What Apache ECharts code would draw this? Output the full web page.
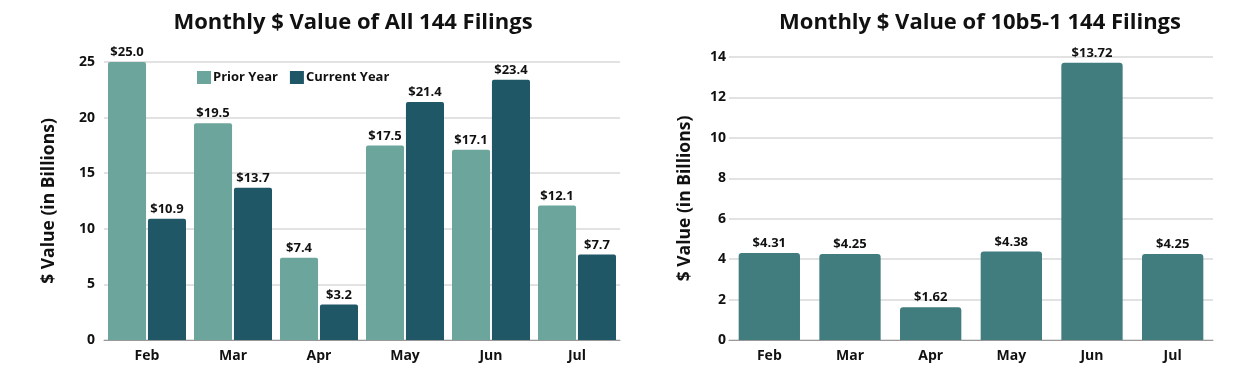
<!DOCTYPE html>
<html><head><meta charset="utf-8">
<script src="https://cdn.jsdelivr.net/npm/echarts@6/dist/echarts.min.js"></script>
<style>html,body{margin:0;padding:0;background:#fff}#c{width:1247px;height:384px}</style>
</head><body><div id="c"></div>
<script>
const months = ['Feb','Mar','Apr','May','Jun','Jul'];
const priorYear = [25.0, 19.5, 7.4, 17.5, 17.1, 12.1];
const currentYear = [10.9, 13.7, 3.2, 21.4, 23.4, 7.7];
const plan10b51 = [4.31, 4.25, 1.62, 4.38, 13.72, 4.25];
const leftTitle = 'Monthly $ Value of All 144 Filings';
const rightTitle = 'Monthly $ Value of 10b5-1 144 Filings';
const yName = '$ Value (in Billions)';

const F = '"Open Sans", sans-serif';
const chart = echarts.init(document.getElementById('c'));
const axisLabel = {fontFamily: F, fontWeight: 'bold', fontSize: 14, color: '#111'};
const lbl = d => ({show: true, position: 'top', distance: 3, fontFamily: F, fontWeight: 'bold', fontSize: 13, color: '#111',
  formatter: p => '$' + p.value.toFixed(d)});
const nameStyle = {fontFamily: F, fontWeight: 'bold', fontSize: 17.5, color: '#111'};
chart.setOption({
  animation: false,
  title: [
    {text: leftTitle, left: 348, top: 7, textAlign: 'center', textStyle: {fontFamily: F, fontWeight: 'bold', fontSize: 22, color: '#111'}},
    {text: rightTitle, left: 975, top: 7, textAlign: 'center', textStyle: {fontFamily: F, fontWeight: 'bold', fontSize: 22, color: '#111'}}
  ],
  legend: {left: 192, top: 66, itemWidth: 14, itemHeight: 13, itemGap: 12, icon: 'rect',
    textStyle: {fontFamily: F, fontWeight: 'bold', fontSize: 13, color: '#111', padding: [0, 0, 0, -3]},
    data: ['Prior Year', 'Current Year']},
  grid: [
    {left: 104, right: 627, top: 62, bottom: 44},
    {left: 729, right: 34, top: 57, bottom: 44}
  ],
  xAxis: [
    {type: 'category', gridIndex: 0, data: months, axisTick: {show: false}, axisLine: {lineStyle: {color: '#999'}}, axisLabel: Object.assign({margin: 9}, axisLabel)},
    {type: 'category', gridIndex: 1, data: months, axisTick: {show: false}, axisLine: {lineStyle: {color: '#999'}}, axisLabel: Object.assign({margin: 9}, axisLabel)}
  ],
  yAxis: [
    {type: 'value', gridIndex: 0, min: 0, max: 25, interval: 5, axisLabel: Object.assign({margin: 9}, axisLabel),
      splitLine: {lineStyle: {color: '#d9d9d9', width: 1.5}},
      name: yName, nameLocation: 'middle', nameGap: 46, nameTextStyle: nameStyle},
    {type: 'value', gridIndex: 1, min: 0, max: 14, interval: 2, axisLabel: Object.assign({margin: 3}, axisLabel),
      splitLine: {lineStyle: {color: '#d9d9d9', width: 1.5}},
      name: yName, nameLocation: 'middle', nameGap: 35, nameTextStyle: nameStyle}
  ],
  series: [
    {name: 'Prior Year', type: 'bar', xAxisIndex: 0, yAxisIndex: 0, data: priorYear, barGap: '5%', barCategoryGap: '9.3%',
      itemStyle: {color: '#6ba59b', borderRadius: [2,2,0,0]}, label: lbl(1)},
    {name: 'Current Year', type: 'bar', xAxisIndex: 0, yAxisIndex: 0, data: currentYear, barGap: '5%', barCategoryGap: '9.3%',
      itemStyle: {color: '#1f5766', borderRadius: [2,2,0,0]}, label: lbl(1)},
    {name: '10b5-1', type: 'bar', xAxisIndex: 1, yAxisIndex: 1, data: plan10b51, barCategoryGap: '24%',
      itemStyle: {color: '#417c7f', borderRadius: [3,3,0,0]}, label: lbl(2)}
  ]
});
</script></body></html>
